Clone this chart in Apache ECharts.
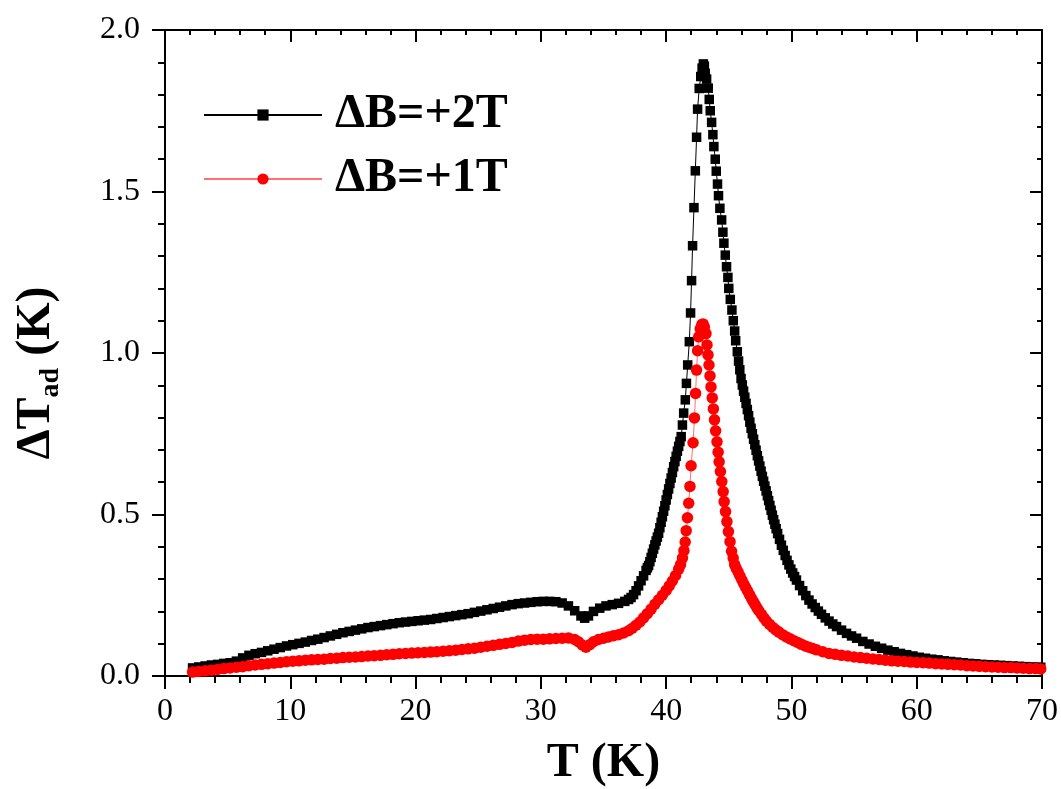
<!DOCTYPE html>
<html><head><meta charset="utf-8">
<script src="https://cdn.jsdelivr.net/npm/echarts@6/dist/echarts.min.js"></script>
<style>html,body{margin:0;padding:0;background:#fff}#c{width:1061px;height:789px}</style>
</head><body><div id="c"></div>
<script>
// ΔB = +2T  (black squares)
const b2T = [2.2,2.7,3.2,3.7,4.2,4.7,5.2,5.7,6.2,6.7,7.2,7.7,8.2,8.7,9.2,9.7,10.2,10.7,11.2,11.7,12.2,12.7,13.2,13.7,14.2,14.7,15.2,15.7,16.2,16.7,17.2,17.7,18.2,18.7,19.2,19.7,20.2,20.7,21.2,21.7,22.2,22.7,23.2,23.7,24.2,24.7,25.2,25.7,26.2,26.7,27.2,27.7,28.2,28.7,29.2,29.7,30.2,30.7,31.2,31.7,32.2,32.7,33.2,33.5,33.8,34.2,34.7,35.2,35.7,36.2,36.7,37.0,37.2,37.4,37.6,37.8,38.0,38.2,38.4,38.5,38.6,38.7,38.8,38.9,39.0,39.1,39.2,39.3,39.4,39.5,39.6,39.7,39.8,39.9,40.0,40.1,40.2,40.3,40.4,40.5,40.6,40.7,40.8,40.9,41.0,41.1,41.2,41.3,41.4,41.53,41.62,41.72,41.85,41.95,42.03,42.11,42.22,42.33,42.43,42.51,42.64,42.76,42.87,42.97,43.05,43.12,43.23,43.36,43.44,43.52,43.63,43.73,43.81,43.92,44.0,44.1,44.18,44.29,44.43,44.53,44.61,44.72,44.82,44.93,45.0,45.12,45.25,45.36,45.47,45.55,45.68,45.78,45.88,45.98,46.08,46.18,46.28,46.38,46.48,46.58,46.68,46.78,46.88,46.98,47.08,47.18,47.28,47.38,47.48,47.58,47.68,47.78,47.88,47.98,48.08,48.18,48.28,48.38,48.48,48.58,48.68,48.78,48.9,49.05,49.2,49.35,49.5,49.65,49.8,49.95,50.1,50.25,50.4,50.65,50.9,51.15,51.4,51.65,51.9,52.15,52.4,52.7,53.0,53.3,53.6,54.0,54.4,54.8,55.2,55.7,56.2,56.7,57.2,57.7,58.2,58.7,59.2,59.7,60.2,60.7,61.2,61.7,62.2,62.7,63.2,63.7,64.2,64.7,65.2,65.7,66.2,66.7,67.2,67.7,68.2,68.7,69.2,69.7,69.9];
const b2V = [0.025,0.028,0.031,0.034,0.036,0.039,0.041,0.046,0.056,0.064,0.069,0.073,0.078,0.083,0.088,0.093,0.097,0.101,0.105,0.110,0.114,0.119,0.124,0.129,0.134,0.138,0.142,0.146,0.150,0.153,0.156,0.159,0.162,0.165,0.167,0.169,0.171,0.173,0.175,0.178,0.181,0.184,0.187,0.190,0.193,0.197,0.201,0.205,0.209,0.213,0.217,0.221,0.224,0.226,0.228,0.230,0.231,0.231,0.230,0.226,0.217,0.202,0.186,0.179,0.186,0.200,0.210,0.217,0.221,0.225,0.231,0.237,0.243,0.252,0.264,0.279,0.295,0.310,0.327,0.335,0.342,0.354,0.367,0.380,0.393,0.406,0.418,0.430,0.442,0.459,0.476,0.493,0.510,0.527,0.545,0.562,0.579,0.596,0.613,0.630,0.648,0.664,0.680,0.696,0.711,0.726,0.741,0.777,0.814,0.855,0.906,0.963,1.035,1.124,1.224,1.332,1.450,1.564,1.668,1.755,1.819,1.856,1.882,1.895,1.888,1.866,1.848,1.820,1.785,1.750,1.714,1.676,1.639,1.600,1.563,1.523,1.487,1.448,1.412,1.374,1.340,1.303,1.267,1.234,1.200,1.166,1.133,1.100,1.068,1.038,1.004,0.975,0.948,0.921,0.901,0.882,0.863,0.844,0.825,0.806,0.786,0.767,0.750,0.733,0.716,0.699,0.682,0.666,0.650,0.634,0.618,0.603,0.588,0.573,0.558,0.543,0.528,0.513,0.498,0.484,0.470,0.456,0.441,0.423,0.405,0.389,0.373,0.358,0.344,0.331,0.319,0.308,0.297,0.280,0.264,0.249,0.235,0.223,0.212,0.201,0.191,0.180,0.170,0.161,0.153,0.142,0.132,0.124,0.117,0.107,0.099,0.092,0.086,0.080,0.075,0.070,0.066,0.062,0.058,0.055,0.052,0.050,0.047,0.045,0.043,0.041,0.039,0.038,0.036,0.035,0.034,0.033,0.032,0.031,0.030,0.029,0.028,0.027,0.027];

// ΔB = +1T  (red circles)
const b1T = [2.2,2.7,3.2,3.7,4.2,4.7,5.2,5.7,6.2,6.7,7.2,7.7,8.2,8.7,9.2,9.7,10.2,10.7,11.2,11.7,12.2,12.7,13.2,13.7,14.2,14.7,15.2,15.7,16.2,16.7,17.2,17.7,18.2,18.7,19.2,19.7,20.2,20.7,21.2,21.7,22.2,22.7,23.2,23.7,24.2,24.7,25.2,25.7,26.2,26.7,27.2,27.7,28.2,28.7,29.2,29.7,30.2,30.7,31.2,31.7,32.2,32.7,33.0,33.3,33.6,33.9,34.2,34.6,35.0,35.4,35.8,36.2,36.6,37.0,37.3,37.6,37.9,38.2,38.5,38.8,39.1,39.4,39.7,40.0,40.25,40.5,40.75,41.0,41.15,41.3,41.42,41.52,41.6,41.7,41.8,41.9,41.99,42.15,42.26,42.35,42.43,42.51,42.6,42.72,42.85,42.95,43.05,43.18,43.26,43.34,43.42,43.5,43.58,43.68,43.77,43.86,43.95,44.06,44.15,44.23,44.33,44.44,44.55,44.63,44.74,44.85,44.97,45.1,45.22,45.35,45.47,45.6,45.75,45.9,46.05,46.2,46.35,46.5,46.65,46.8,46.95,47.1,47.25,47.4,47.6,47.8,48.0,48.25,48.5,48.75,49.0,49.3,49.6,49.9,50.2,50.5,50.8,51.1,51.4,51.7,52.0,52.5,53.0,53.5,54.0,54.5,55.0,55.5,56.0,56.5,57.0,57.5,58.0,58.5,59.0,59.5,60.0,60.5,61.0,61.5,62.0,62.5,63.0,63.5,64.0,64.5,65.0,65.5,66.0,66.5,67.0,67.5,68.0,68.5,69.0,69.5,69.9];
const b1V = [0.012,0.014,0.016,0.018,0.020,0.023,0.025,0.027,0.029,0.032,0.034,0.036,0.038,0.040,0.042,0.044,0.046,0.047,0.049,0.050,0.051,0.052,0.054,0.055,0.057,0.058,0.059,0.060,0.062,0.063,0.064,0.066,0.067,0.069,0.070,0.071,0.072,0.073,0.074,0.075,0.077,0.078,0.080,0.082,0.084,0.086,0.089,0.092,0.095,0.098,0.101,0.104,0.108,0.111,0.113,0.114,0.114,0.115,0.116,0.117,0.118,0.113,0.106,0.096,0.089,0.097,0.106,0.113,0.117,0.121,0.125,0.128,0.133,0.140,0.148,0.157,0.167,0.180,0.193,0.207,0.222,0.236,0.250,0.265,0.279,0.294,0.311,0.331,0.345,0.365,0.388,0.415,0.450,0.490,0.535,0.587,0.651,0.722,0.799,0.875,0.947,1.007,1.050,1.075,1.088,1.090,1.080,1.060,1.025,0.994,0.963,0.929,0.895,0.861,0.827,0.793,0.759,0.725,0.693,0.663,0.633,0.602,0.571,0.540,0.509,0.478,0.447,0.416,0.386,0.365,0.345,0.333,0.321,0.309,0.297,0.285,0.274,0.263,0.252,0.241,0.231,0.221,0.211,0.202,0.191,0.180,0.170,0.160,0.151,0.143,0.136,0.128,0.121,0.115,0.109,0.104,0.098,0.093,0.089,0.085,0.081,0.075,0.070,0.067,0.064,0.062,0.059,0.057,0.055,0.053,0.051,0.049,0.047,0.046,0.045,0.043,0.042,0.041,0.040,0.038,0.037,0.036,0.035,0.034,0.032,0.031,0.030,0.029,0.028,0.027,0.026,0.026,0.025,0.024,0.023,0.023,0.022];

const seriesNames = ['\u0394B=+2T', '\u0394B=+1T'];
const xTitle = 'T (K)';

const serif = "'Liberation Serif', 'Times New Roman', serif";
const pairs = (t, v) => t.map((x, i) => [x, v[i]]);

const axisLine = { show: true, onZero: false, lineStyle: { color: '#000', width: 2 } };
const tickStyle = { color: '#000', width: 2 };

const chart = echarts.init(document.getElementById('c'), null, { renderer: 'canvas' });
chart.setOption({
  animation: false,
  backgroundColor: '#fff',
  grid: { left: 165, right: 19, top: 30, bottom: 113, containLabel: false, outerBoundsMode: 'none' },
  legend: {
    orient: 'vertical', left: 203, top: 90, padding: 0,
    itemWidth: 118, itemHeight: 14, itemGap: 14,
    textStyle: { fontFamily: serif, fontWeight: 'bold', fontSize: 48, lineHeight: 50, color: '#000', padding: [0, 0, 0, 8] },
    data: seriesNames
  },
  xAxis: [
    {
      type: 'value', min: 0, max: 70, interval: 10, position: 'bottom',
      axisLine: axisLine,
      axisTick: { show: true, inside: false, length: 13, lineStyle: tickStyle },
      minorTick: { show: true, splitNumber: 5, length: 7, lineStyle: tickStyle },
      splitLine: { show: false },
      axisLabel: { fontFamily: serif, fontSize: 32, color: '#000', margin: 20 },
      name: xTitle, nameLocation: 'middle', nameGap: 64,
      nameTextStyle: { fontFamily: serif, fontWeight: 'bold', fontSize: 48, color: '#000' }
    },
    {
      type: 'value', min: 0, max: 70, interval: 10, position: 'top',
      axisLine: axisLine,
      axisTick: { show: true, inside: true, length: 12, lineStyle: tickStyle },
      minorTick: { show: true, splitNumber: 5, length: 5, lineStyle: tickStyle },
      splitLine: { show: false },
      axisLabel: { show: false }
    }
  ],
  yAxis: [
    {
      type: 'value', min: 0, max: 2.0, interval: 0.5, position: 'left',
      axisLine: axisLine,
      axisTick: { show: true, inside: false, length: 13, lineStyle: tickStyle },
      minorTick: { show: true, splitNumber: 5, length: 7, lineStyle: tickStyle },
      splitLine: { show: false },
      axisLabel: { fontFamily: serif, fontSize: 32, color: '#000', margin: 25, formatter: v => v.toFixed(1) },
      name: '{a|\u0394T}{s|ad}{a| (K)}', nameLocation: 'middle', nameGap: 100,
      nameTextStyle: {
        padding: [0, 40, 0, 0],
        rich: {
          a: { fontFamily: serif, fontWeight: 'bold', fontSize: 48, color: '#000', lineHeight: 56 },
          s: { fontFamily: serif, fontWeight: 'bold', fontSize: 28, color: '#000', verticalAlign: 'bottom', lineHeight: 40 }
        }
      }
    },
    {
      type: 'value', min: 0, max: 2.0, interval: 0.5, position: 'right',
      axisLine: axisLine,
      axisTick: { show: true, inside: true, length: 12, lineStyle: tickStyle },
      minorTick: { show: true, splitNumber: 5, length: 5, lineStyle: tickStyle },
      splitLine: { show: false },
      axisLabel: { show: false }
    }
  ],
  series: [
    {
      name: seriesNames[0], type: 'line', xAxisIndex: 0, yAxisIndex: 0,
      data: pairs(b2T, b2V),
      symbol: 'rect', symbolSize: 9.5, showAllSymbol: true,
      itemStyle: { color: '#000' },
      lineStyle: { color: '#000', width: 1 },
      z: 2
    },
    {
      name: seriesNames[1], type: 'line', xAxisIndex: 0, yAxisIndex: 0,
      data: pairs(b1T, b1V),
      symbol: 'circle', symbolSize: 11.5, showAllSymbol: true,
      itemStyle: { color: '#ff0000' },
      lineStyle: { color: '#ff7070', width: 1 },
      z: 3
    }
  ]
});
</script>
</body></html>
